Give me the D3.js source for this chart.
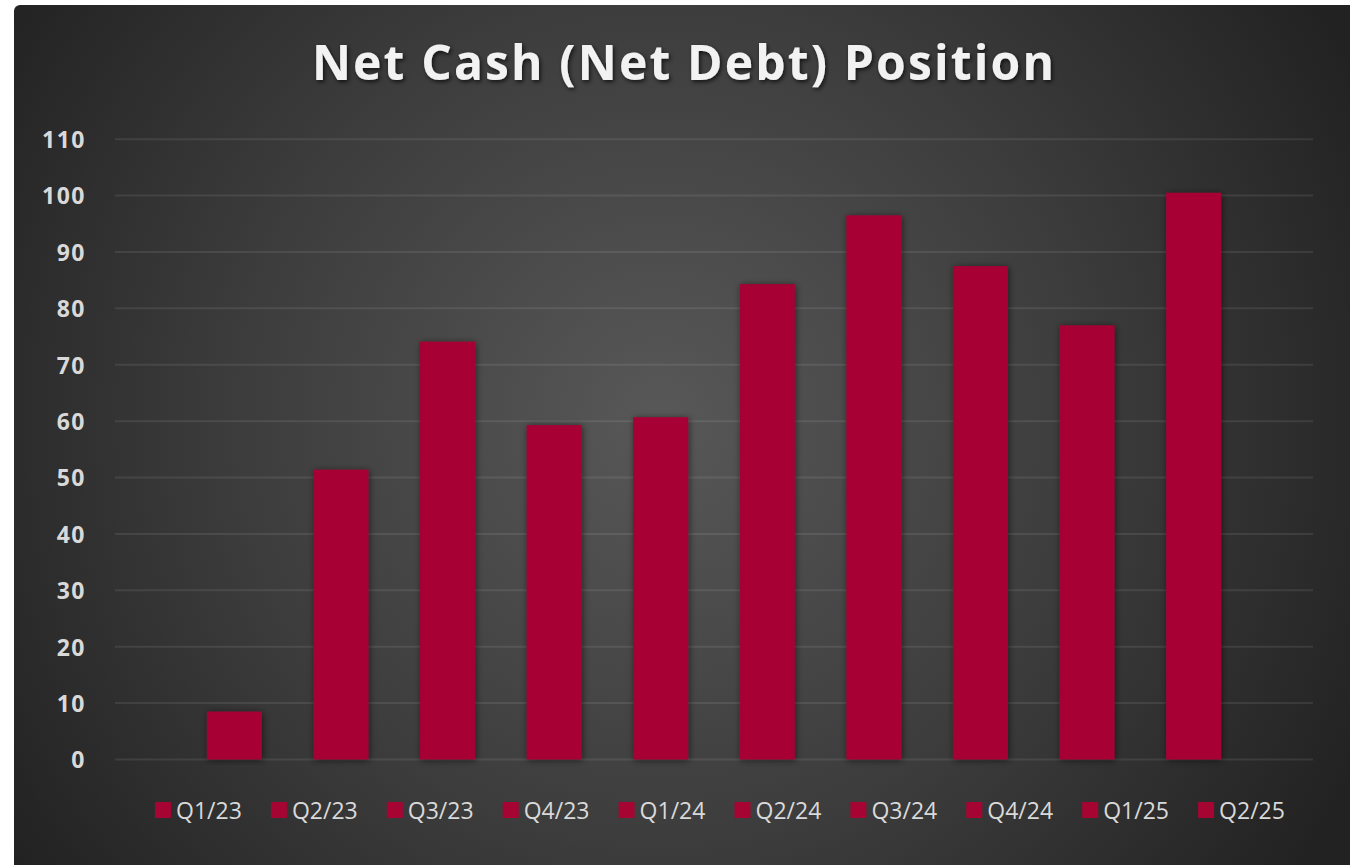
<!DOCTYPE html>
<html>
<head>
<meta charset="utf-8">
<script src="https://cdn.jsdelivr.net/npm/d3@7"></script>
<style>
  html, body { margin: 0; padding: 0; background: #ffffff; }
  svg { display: block; }
</style>
</head>
<body>
<svg id="chart" width="1350" height="865"></svg>
<script>
// chart data
var quarters = ["Q1/23", "Q2/23", "Q3/23", "Q4/23", "Q1/24", "Q2/24", "Q3/24", "Q4/24", "Q1/25", "Q2/25"];
var netCash = [8.5, 51.4, 74.1, 59.3, 60.7, 84.3, 96.5, 87.5, 77.0, 100.5];
var yTicks = [0, 10, 20, 30, 40, 50, 60, 70, 80, 90, 100, 110];
var title = "Net Cash (Net Debt) Position";

var barColor = "#a60534",
    textColor = "#d9d9d9";

var svg = d3.select("#chart");
var defs = svg.append("defs");

// background gradient, lighter in the middle
var grad = defs.append("radialGradient").attr("id", "bg")
    .attr("gradientUnits", "userSpaceOnUse")
    .attr("cx", 660).attr("cy", 420).attr("r", 780);
grad.append("stop").attr("offset", "0%").attr("stop-color", "#585858");
grad.append("stop").attr("offset", "55%").attr("stop-color", "#3c3c3c");
grad.append("stop").attr("offset", "100%").attr("stop-color", "#222222");

var shadow = defs.append("filter").attr("id", "barShadow")
    .attr("x", "-30%").attr("y", "-10%").attr("width", "160%").attr("height", "120%");
shadow.append("feDropShadow").attr("dx", 1).attr("dy", 1)
    .attr("stdDeviation", 3.5).attr("flood-color", "#000").attr("flood-opacity", 0.55);

var tshadow = defs.append("filter").attr("id", "textShadow")
    .attr("x", "-10%").attr("y", "-30%").attr("width", "120%").attr("height", "160%");
tshadow.append("feDropShadow").attr("dx", 1.5).attr("dy", 2)
    .attr("stdDeviation", 2).attr("flood-color", "#000").attr("flood-opacity", 0.7);

svg.append("rect")
    .attr("x", 14).attr("y", 5).attr("width", 1346).attr("height", 870)
    .attr("rx", 6).attr("fill", "url(#bg)");

// scales
var x = d3.scaleBand().domain(quarters).range([115, 1313])
    .paddingInner(0.484).paddingOuter(0.862);
var y = d3.scaleLinear().domain([0, 110]).range([759.5, 139.2]);

// gridlines
svg.append("g").selectAll("line").data(yTicks).join("line")
    .attr("x1", 115).attr("x2", 1313)
    .attr("y1", d => y(d)).attr("y2", d => y(d))
    .attr("stroke", "#ffffff").attr("stroke-opacity", 0.085).attr("stroke-width", 2);

// y axis labels
var yAxis = svg.append("g").attr("transform", "translate(86,1)")
    .call(d3.axisLeft(y).tickValues(yTicks).tickSize(0).tickPadding(0));
yAxis.select(".domain").remove();
yAxis.selectAll("text")
    .attr("fill", textColor)
    .style("font-family", "'Open Sans', sans-serif")
    .style("font-weight", "bold")
    .style("font-size", "23px")
    .style("letter-spacing", "1.5px");

// bars
svg.append("g").selectAll("rect").data(netCash).join("rect")
    .attr("x", (d, i) => x(quarters[i]))
    .attr("width", x.bandwidth())
    .attr("y", d => y(Math.max(0, d)))
    .attr("height", d => Math.abs(y(d) - y(0)))
    .attr("fill", barColor)
    .attr("filter", "url(#barShadow)");

// title
var t = svg.append("text")
    .attr("x", 684).attr("y", 80)
    .attr("text-anchor", "middle")
    .attr("fill", "#f2f2f2")
    .attr("filter", "url(#textShadow)")
    .style("font-family", "'Open Sans', sans-serif")
    .style("font-weight", "bold")
    .style("font-size", "48px")
    .text(title);
// fit the title to the width it has in the original
var want = 742, have = t.node().getComputedTextLength();
t.style("letter-spacing", ((want - have) / (title.length - 1)).toFixed(2) + "px");

// legend
var lx = d3.scalePoint().domain(quarters).range([155, 155 + 9 * 115.9]);
var leg = svg.append("g").selectAll("g").data(quarters).join("g")
    .attr("transform", d => "translate(" + lx(d) + ",802)");
leg.append("rect").attr("width", 16).attr("height", 16).attr("fill", barColor);
leg.append("text")
    .attr("x", 21).attr("y", 16.5)
    .attr("fill", textColor)
    .style("font-family", "'Open Sans', sans-serif")
    .style("font-size", "23px")
    .text(d => d);
</script>
</body>
</html>
